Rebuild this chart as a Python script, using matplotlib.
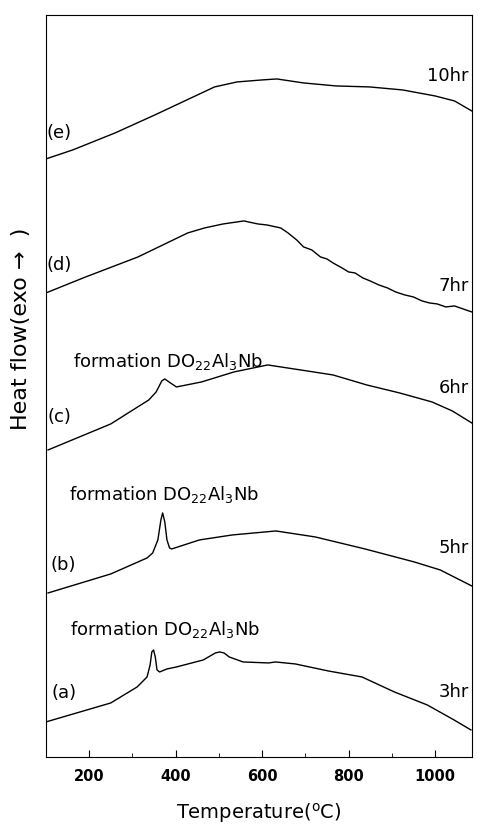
#! /usr/bin/env python

# DSC traces of milled powders after different milling times

import matplotlib
matplotlib.use("Agg")
import matplotlib.pyplot as plt
from matplotlib.ticker import MultipleLocator

plt.rcParams['font.family'] = ['DejaVu Sans']
plt.rcParams['mathtext.default'] = 'regular'

# temperatures (C) and heat flow (arbitrary units, offset traces)
T_e = [100, 162, 260, 352, 490, 542, 600, 634, 696, 771, 849, 925, 1000, 1045, 1085]
H_e = [598, 607, 624, 642, 670, 675, 677, 678, 674, 671, 670, 667, 661, 656, 646]

T_d = [100, 192, 313, 428, 467, 510, 558, 590, 611, 643, 660, 680, 696, 715, 735, 750, 764,
       785, 800, 815, 833, 850, 870, 890, 909, 930, 950, 970, 987, 1005, 1025, 1045, 1065, 1085]
H_d = [464, 480, 500, 524, 529, 533, 536, 533, 532, 529, 524, 517, 510, 507, 500, 498, 494,
       489, 485, 484, 479, 476, 472, 469, 465, 462, 460, 456, 454, 453, 450, 451, 448, 445]

T_c = [105, 250, 338, 355, 361, 368, 375, 388, 402, 460, 535, 613, 689, 764, 842, 918, 993, 1040, 1085]
H_c = [307, 333, 357, 365, 370, 376, 378, 374, 370, 375, 385, 392, 387, 382, 372, 364, 355, 346, 334]

T_b = [105, 250, 334, 347, 359, 366, 370, 375, 380, 386, 391, 455, 531, 632, 723, 838, 952, 1012, 1085]
H_b = [164, 183, 199, 204, 217, 237, 244, 235, 217, 209, 208, 217, 222, 226, 220, 208, 195, 187, 171]

T_a = [100, 250, 311, 334, 341, 345, 349, 353, 357, 363, 380, 402, 464, 480, 492, 502, 512, 524,
       556, 615, 631, 677, 753, 831, 906, 982, 1044, 1083]
H_a = [35, 54, 70, 80, 92, 105, 107, 100, 87, 85, 88, 90, 97, 101, 104, 105, 104, 100,
       95, 94, 95, 93, 86, 80, 65, 52, 37, 27]

traces = [(T_a, H_a), (T_b, H_b), (T_c, H_c), (T_d, H_d), (T_e, H_e)]
tags = ['(a)', '(b)', '(c)', '(d)', '(e)']
times = ['3hr', '5hr', '6hr', '7hr', '10hr']

fig = plt.figure(figsize=(4.78, 8.30), dpi=100)
ax = fig.add_axes([0.096, 0.088, 0.891, 0.894])

for T, H in traces:
    ax.plot(T, H, color='black', linewidth=1.0)

# curve tags on the left, milling times on the right
tag_pos = [(142, 64), (140, 192), (131, 340), (130, 492), (130, 624)]
for (x, y), s in zip(tag_pos, tags):
    ax.text(x, y, s, fontsize=13, ha='center', va='center')

time_pos = [65, 209, 369, 471, 681]
for y, s in zip(time_pos, times):
    ax.text(1078, y, s, fontsize=13, ha='right', va='center')

for x, y in [(155, 127), (153, 262), (162, 395)]:
    ax.text(x, y, 'formation DO$_{22}$Al$_3$Nb', fontsize=13, ha='left', va='center')

ax.set_xlim(100, 1085)
ax.set_ylim(0, 742)
ax.xaxis.set_major_locator(MultipleLocator(200))
ax.xaxis.set_minor_locator(MultipleLocator(100))
ax.tick_params(axis='x', which='both', direction='in', top=False)
ax.tick_params(axis='x', which='major', length=5, labelsize=10.5, pad=9)
ax.tick_params(axis='x', which='minor', length=3)
ax.set_yticks([])
for lbl in ax.get_xticklabels():
    lbl.set_fontweight('bold')

ax.set_xlabel('Temperature($^{o}$C)', fontsize=14, labelpad=12)
ax.set_ylabel('Heat flow(exo \u2192  )', fontsize=16)
ax.yaxis.set_label_coords(-0.035, 0.577)

fig.savefig('out.png', dpi=100)
